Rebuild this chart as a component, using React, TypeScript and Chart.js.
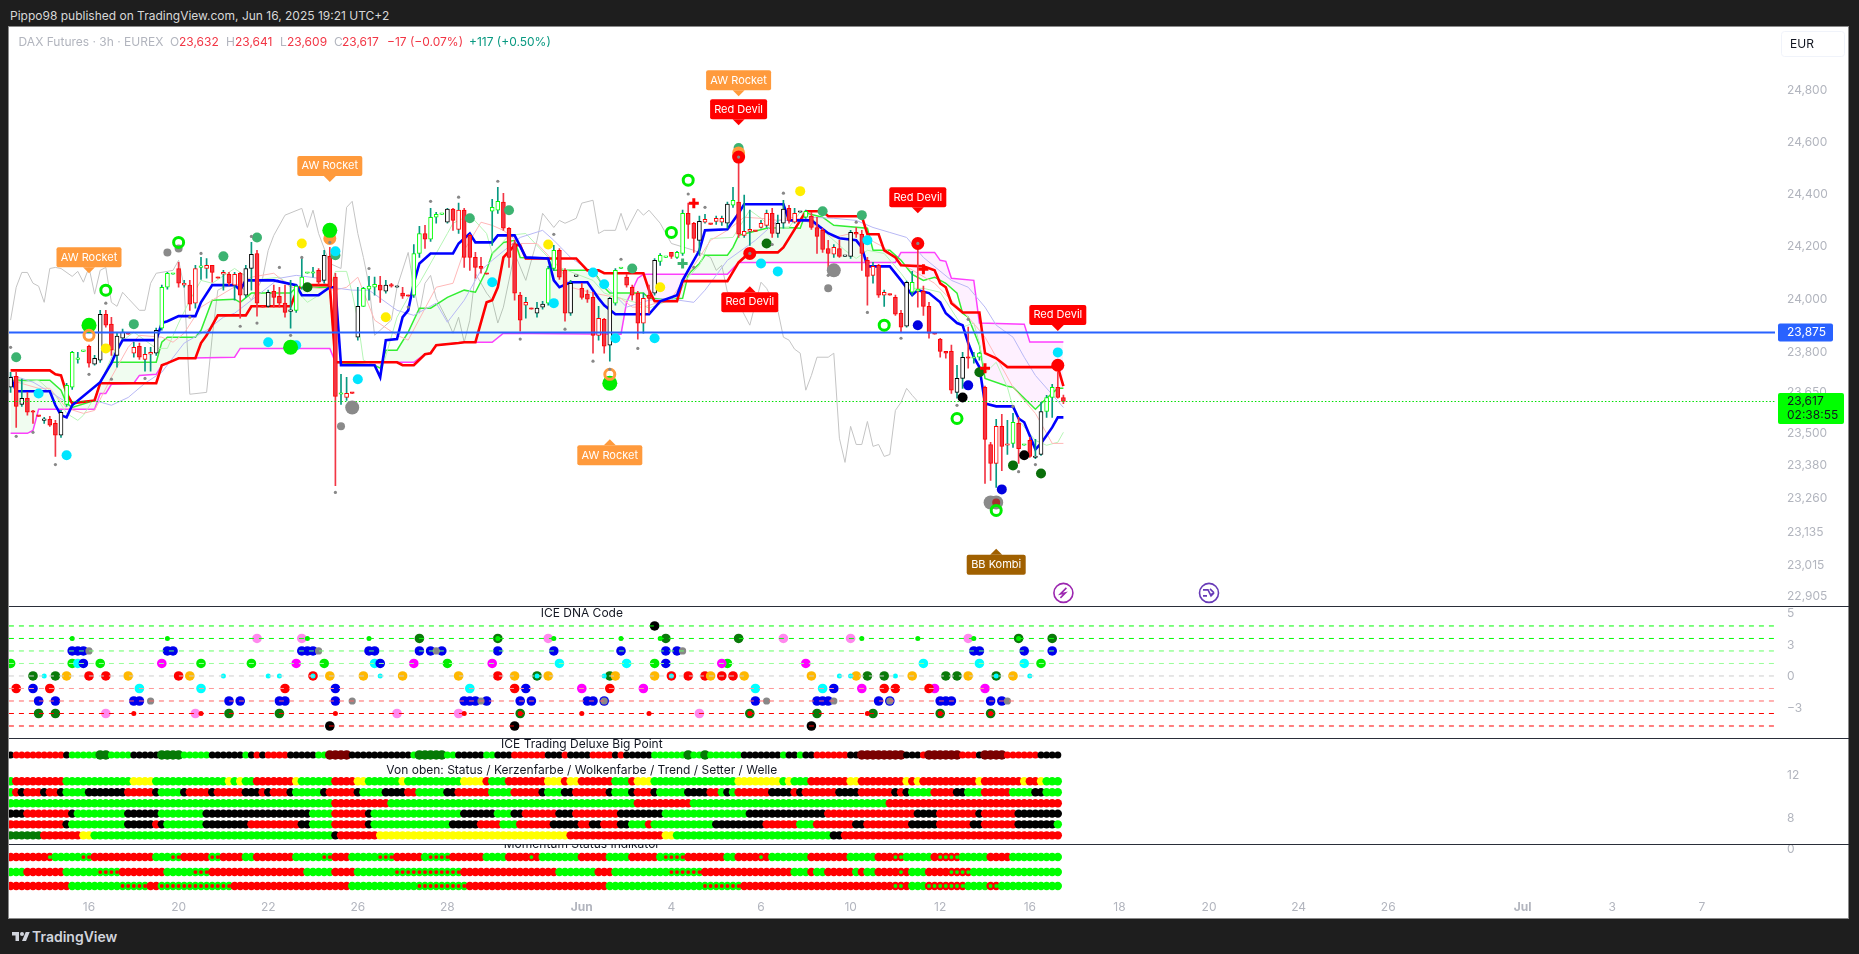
import React, { useEffect, useRef } from "react";
import { Chart, registerables } from "chart.js";

Chart.register(...registerables);

const FONT = "Inter, 'Noto Sans', sans-serif";
const firstBar = 2;
const lastRowBar = 189;

// ---------- candles (bars 2..190) ----------
const bodyTop = [
  23707,23711,23629,23629,23580,23566,23551,23551,23536,23577,
  23677,23800,23778,23808,23823,23778,23943,23943,23906,23861,
  23876,23872,23819,23823,23793,23800,23883,24045,24098,24098,
  24116,24060,24053,24116,24124,24128,24128,24083,24101,24094,
  24094,24098,24116,24170,24173,23973,24026,24030,24011,23985,
  23958,24049,24083,24101,24101,24109,24166,24162,24083,23647,
  23647,23651,23973,24041,24049,24056,24053,24053,24053,24049,
  24023,24015,24173,24249,24249,24311,24322,24326,24342,24342,
  24338,24338,24242,24158,24124,24098,24349,24372,24369,24269,
  24211,24015,23988,23966,23966,23981,24116,24185,24185,24109,
  24060,24090,24041,24019,24007,23928,23924,24003,24109,24120,
  24083,24045,24023,24003,24015,24147,24166,24162,24177,24177,
  24326,24326,24288,24295,24303,24288,24307,24307,24361,24376,
  24369,24257,24265,24261,24288,24326,24326,24288,24342,24345,
  24326,24334,24334,24315,24272,24261,24192,24196,24192,24166,
  24253,24253,24246,24147,24124,24128,24026,24019,24007,23947,
  24064,24064,24038,24030,23973,23872,23850,23804,23804,23703,
  23782,23782,23782,23797,23670,23458,23525,23525,23458,23540,
  23536,23458,23473,23414,23580,23632,23670,23670,23632,
];
const bodyBottom = [
  23670,23599,23606,23577,23577,23562,23547,23529,23492,23492,
  23606,23670,23774,23804,23760,23756,23771,23902,23808,23789,
  23853,23868,23797,23782,23774,23793,23797,23891,24045,24094,
  24060,24053,23981,23985,24120,24116,24101,24079,24094,24060,
  24053,24015,24015,24116,23985,23970,23973,24007,23985,23950,
  23954,23958,24045,24098,24098,24064,24071,24045,23636,23644,
  23632,23647,23857,23973,24038,24045,24034,24030,24049,24045,
  24011,24011,24015,24173,24227,24227,24311,24322,24292,24299,
  24265,24158,24158,24120,24116,24094,24334,24338,24269,24158,
  24023,23921,23977,23962,23947,23970,23985,24116,24083,23947,
  23947,24086,24007,24000,23864,23864,23823,23827,23985,24116,
  24053,24015,23910,23910,24003,24023,24143,24158,24162,24158,
  24173,24284,24230,24223,24292,24284,24295,24292,24288,24357,
  24246,24242,24257,24257,24272,24280,24249,24249,24288,24299,
  24292,24330,24311,24272,24238,24188,24173,24170,24162,24162,
  24162,24246,24173,24086,24090,24015,24015,24015,23943,23895,
  23898,24026,24030,23973,23872,23868,23804,23797,23659,23651,
  23703,23778,23778,23782,23477,23388,23388,23451,23455,23462,
  23443,23455,23414,23410,23421,23580,23632,23632,23617,
];
const highs = [
  23726,23726,23700,23651,23584,23566,23558,23562,23547,23584,
  23685,23804,23800,23808,23827,23789,23958,23958,23932,23872,
  23887,23872,23838,23835,23819,23819,23891,24053,24101,24098,
  24139,24071,24071,24128,24158,24154,24128,24083,24109,24101,
  24101,24101,24128,24215,24185,23973,24034,24053,24045,24053,
  24071,24053,24158,24101,24120,24116,24185,24196,24098,23718,
  23707,23651,24045,24045,24086,24083,24086,24071,24060,24049,
  24045,24015,24207,24276,24280,24345,24330,24326,24345,24345,
  24365,24345,24246,24177,24158,24098,24380,24426,24403,24272,
  24223,24026,24007,23966,23988,23992,24124,24204,24192,24116,
  24071,24090,24060,24034,24026,23973,23928,24007,24116,24120,
  24094,24053,24030,24023,24053,24154,24173,24162,24177,24181,
  24338,24365,24292,24315,24322,24288,24315,24315,24369,24426,
  24542,24396,24338,24261,24299,24338,24345,24319,24376,24357,
  24345,24334,24338,24330,24311,24269,24223,24207,24223,24166,
  24261,24272,24261,24158,24139,24132,24034,24019,24015,23958,
  24068,24105,24211,24049,23988,23872,23853,23804,23827,23752,
  23800,23895,23800,23800,23674,23466,23551,23569,23547,23573,
  23558,23458,23484,23477,23614,23640,23681,23726,23641,
];
const lows = [
  23651,23521,23599,23566,23536,23562,23536,23525,23414,23484,
  23599,23662,23760,23804,23745,23752,23763,23895,23789,23745,
  23850,23868,23782,23774,23730,23730,23789,23883,24038,24094,
  24045,24045,23958,23966,24075,24079,24064,24079,24034,24053,
  23996,23928,24007,24034,23936,23970,23970,23970,23970,23932,
  23891,23950,24038,24098,24083,24056,24060,24034,23307,23606,
  23621,23647,23846,23973,23996,24015,23988,24023,24045,24045,
  24003,24011,24007,24158,24192,24219,24288,24322,24288,24261,
  24249,24120,24109,24079,24098,24094,24204,24326,24261,24120,
  23996,23880,23928,23962,23932,23962,23977,24109,24075,23917,
  23939,24086,24000,23988,23797,23846,23797,23767,23977,24116,
  24045,23996,23850,23872,23947,24015,24128,24158,24154,24154,
  24166,24230,24177,24166,24288,24284,24284,24280,24269,24349,
  24234,24234,24204,24257,24269,24272,24234,24234,24269,24288,
  24288,24330,24307,24265,24173,24177,24109,24158,24158,24162,
  24154,24234,24109,23977,24060,24007,23973,24015,23939,23876,
  23895,24015,23970,23939,23853,23868,23782,23778,23647,23629,
  23666,23741,23760,23771,23315,23326,23300,23362,23421,23447,
  23388,23455,23410,23406,23418,23558,23558,23629,23609,
];
const candleKinds = (
  "krkrrrkrrk" + "ggggrkkrrk" + "krorookggg" + "rorogorror" + "orkkrrkrrr" +
  "kggggrkrrg" + "orkgggrkrk" + "rrggrgggkr" + "orrrrrggrr" + "rrorkkggrr" +
  "kkrrrorkgg" + "rrrorkggrg" + "grrkorookg" + "rooroorkkr" + "okgrrrrork" +
  "krrrororrr" + "kgGrrrrrrk" + "krggrrorog" + "rgrkkggrr"
).split("");

// ---------- indicator lines: [bar, price] ----------
const blueLine = [[2,23707],[3,23655],[9,23655],[10,23603],[11,23566],[12,23558],[13,23603],[18,23689],[20,23760],[21,23808],[22,23846],[28,23846],[29,23910],[30,23917],[32,23936],[35,23936],[36,23988],[38,24053],[42,24053],[43,24034],[44,24071],[49,24071],[53,24053],[54,24015],[57,24015],[59,24045],[60,24045],[61,23752],[67,23752],[68,23707],[69,23846],[71,23850],[72,23932],[73,23958],[74,24060],[75,24135],[77,24173],[81,24173],[82,24211],[84,24249],[85,24215],[88,24215],[89,24242],[92,24242],[94,24158],[98,24154],[99,24071],[100,24045],[102,24064],[105,24064],[107,24003],[108,23977],[110,23943],[116,23943],[118,23992],[121,24015],[122,24071],[125,24185],[126,24261],[130,24265],[132,24326],[133,24361],[140,24361],[141,24299],[145,24299],[148,24250],[150,24231],[153,24223],[154,24196],[155,24124],[159,24124],[161,24071],[163,24015],[164,24034],[166,24023],[168,23988],[169,23947],[171,23910],[172,23902],[173,23835],[174,23782],[175,23745],[176,23610],[178,23599],[181,23599],[182,23554],[183,23540],[185,23440],[186,23462],[188,23521],[189,23558],[190,23558]];
const redLine = [[2,23733],[9,23733],[10,23718],[11,23714],[12,23647],[13,23610],[17,23621],[18,23685],[28,23685],[29,23752],[30,23760],[32,23778],[35,23778],[36,23835],[37,23864],[39,23939],[44,23939],[45,23973],[52,23973],[53,24026],[54,24053],[59,24053],[60,23763],[71,23763],[72,23752],[74,23752],[76,23793],[77,23797],[78,23827],[82,23835],[83,23838],[85,23838],[87,23988],[88,23996],[89,24045],[90,24158],[92,24204],[93,24204],[94,24154],[103,24154],[105,24109],[107,24109],[108,24098],[115,24098],[116,24034],[117,23992],[121,23992],[122,24068],[130,24068],[132,24139],[134,24177],[139,24177],[140,24196],[143,24299],[144,24334],[147,24334],[148,24315],[154,24315],[155,24246],[157,24246],[158,24185],[160,24158],[161,24128],[165,24124],[167,24109],[168,24060],[169,24045],[170,23985],[172,23950],[175,23950],[176,23797],[178,23778],[180,23745],[189,23745],[190,23674]];
const magentaLine = [[2,23499],[5,23499],[6,23510],[7,23588],[17,23588],[18,23647],[19,23647],[20,23681],[24,23685],[25,23714],[28,23718],[29,23752],[32,23778],[42,23782],[43,23815],[59,23815],[60,23763],[74,23763],[76,23793],[77,23797],[78,23827],[82,23835],[83,23838],[88,23838],[90,23872],[111,23868],[112,23988],[114,24079],[115,24094],[130,24094],[132,24139],[160,24139],[161,24177],[167,24177],[168,24147],[169,24143],[170,24079],[174,24071],[175,23910],[183,23906],[184,23839],[190,23839]];
const greenLine = [[2,23696],[9,23696],[11,23659],[12,23610],[13,23595],[17,23621],[18,23689],[20,23763],[28,23763],[29,23838],[30,23857],[35,23857],[36,23883],[38,23996],[42,24000],[43,23988],[45,24023],[52,24023],[53,24045],[59,24045],[60,23763],[67,23752],[68,23741],[69,23808],[71,23808],[73,23876],[75,23966],[77,23966],[80,24007],[83,24034],[85,24026],[87,24109],[88,24173],[90,24215],[92,24223],[93,24158],[98,24154],[99,24109],[106,24109],[108,24045],[109,24023],[115,24023],[116,24003],[119,24000],[122,24003],[123,24094],[125,24135],[126,24166],[130,24166],[131,24196],[132,24242],[134,24253],[137,24269],[141,24272],[143,24269],[144,24327],[147,24311],[149,24280],[155,24269],[156,24185],[159,24185],[161,24147],[163,24094],[165,24071],[167,24083],[169,24060],[171,24023],[172,23947],[173,23932],[175,23827],[176,23703],[180,23674],[181,23670],[185,23588],[187,23629],[189,23666],[190,23666]];
const paleGreen = [[2,23703],[4,23689],[7,23696],[10,23640],[12,23573],[14,23547],[15,23566],[17,23632],[19,23733],[21,23827],[24,23876],[28,23815],[30,23815],[32,23910],[34,23996],[36,24071],[38,24060],[42,24116],[45,24071],[50,24083],[53,24034],[55,23988],[59,24041],[60,24105],[62,24105],[63,24023],[64,23921],[65,23771],[67,23752],[68,23714],[71,23932],[73,24007],[75,24060],[80,24249],[81,24288],[84,24319],[87,24249],[88,24173],[91,24242],[94,24249],[98,24158],[100,24120],[106,24071],[108,24023],[111,24003],[114,23985],[116,23966],[121,24007],[123,24083],[125,24128],[127,24230],[131,24234],[134,24338],[136,24307],[138,24269],[141,24272],[143,24330],[145,24311],[147,24261],[151,24185],[153,24154],[155,24185],[158,24173],[161,24098],[163,24041],[165,24041],[168,24026],[172,23895],[174,23910],[175,23835],[176,23722],[178,23763],[180,23670],[181,23595],[182,23547],[185,23473],[187,23455],[189,23466],[190,23503]];
const paleRed = [[2,23696],[7,23666],[9,23666],[12,23592],[15,23573],[17,23584],[20,23707],[23,23819],[25,23864],[29,23857],[31,23838],[33,23872],[36,23970],[38,23996],[41,24034],[45,24083],[49,24098],[52,24045],[55,24045],[60,24034],[62,24045],[64,24083],[67,23921],[71,23864],[73,23846],[78,24045],[81,24060],[83,24185],[86,24292],[88,24280],[90,24261],[93,24211],[96,24211],[100,24120],[102,24045],[106,24023],[111,24003],[113,23970],[115,23970],[120,24003],[125,24158],[127,24223],[130,24261],[133,24311],[136,24307],[139,24299],[142,24311],[145,24288],[149,24234],[153,24253],[155,24230],[158,24196],[161,24135],[164,24098],[167,24060],[173,23932],[175,23883],[176,23857],[179,23745],[181,23670],[185,23573],[188,23462],[190,23462]];
const paleBlue = [[2,23711],[4,23703],[6,23689],[10,23640],[12,23614],[17,23621],[20,23603],[23,23632],[26,23685],[29,23726],[33,23835],[37,23883],[40,23932],[42,23947],[45,23996],[50,24079],[53,24090],[57,24079],[59,24045],[63,24034],[66,24034],[71,23958],[74,23939],[78,23985],[80,23913],[83,23996],[86,24109],[88,24147],[93,24234],[97,24261],[99,24223],[102,24158],[106,24098],[109,24034],[112,23970],[116,23996],[119,24003],[124,23988],[126,24034],[130,24147],[135,24223],[139,24299],[142,24299],[145,24311],[149,24307],[153,24299],[156,24272],[159,24253],[162,24234],[165,24158],[170,24071],[173,24045],[176,23970],[178,23902],[181,23857],[183,23782],[185,23714],[190,23595]];
const grayLine = [[2,23921],[3,24045],[4,24101],[5,24101],[6,24060],[7,24049],[8,23988],[9,24116],[10,24120],[11,24116],[13,24086],[14,24105],[15,24064],[16,24120],[17,24019],[18,24109],[19,24120],[20,23988],[21,23973],[22,24026],[23,24003],[25,23958],[26,23958],[27,24060],[28,24098],[30,24105],[31,24109],[32,24147],[33,24045],[34,23644],[37,23651],[38,23857],[39,24034],[40,24045],[43,24056],[45,23996],[47,24079],[48,24185],[49,24242],[51,24319],[54,24345],[55,24272],[56,24338],[57,24249],[59,24135],[61,24116],[62,24349],[63,24372],[64,24249],[65,24158],[66,24053],[67,23864],[70,23921],[71,24045],[73,24177],[74,24045],[75,23947],[76,24060],[77,24090],[78,24003],[80,23921],[81,23872],[82,23932],[83,23838],[84,23921],[85,24098],[87,24023],[88,23996],[89,23910],[90,23970],[92,24173],[94,24071],[96,24223],[97,24326],[99,24272],[100,24299],[101,24288],[103,24307],[104,24365],[106,24376],[107,24249],[108,24261],[110,24261],[111,24326],[112,24261],[114,24342],[115,24319],[116,24338],[118,24288],[120,24211],[124,24185],[127,24158],[128,24109],[129,24128],[130,24026],[131,24023],[134,23902],[136,24064],[137,24041],[139,23958],[140,23857],[141,23846],[142,23812],[143,23797],[144,23659],[145,23714],[146,23782],[148,23782],[149,23797],[150,23481],[151,23392],[152,23525],[153,23458],[154,23458],[155,23543],[156,23451],[157,23458],[158,23414],[159,23421],[160,23584],[161,23614],[162,23666],[163,23640],[164,23617]];

// ---------- horizontal levels ----------
const blueLevel = 23875;
const lastPrice = 23617;

// ---------- signal dots on the price pane: [bar, price] ----------
const dotCyan = [[7,23647],[12,23418],[48,23838],[53,23827],[60,24181],[64,23700],[88,24064],[99,23985],[106,24101],[108,24056],[110,23853],[117,23853],[136,24135],[139,24105],[155,24223],[189,23800]];
const dotSeaGreen = [[3,23782],[24,23906],[40,24162],[46,24234],[60,24166],[84,24307],[91,24338],[113,24116],[132,24577],[147,24334],[154,24319]];
const dotYellow = [[19,23815],[54,24211],[69,23932],[98,24207],[118,24045],[143,24411]];
const dotLime = [[16,23902],[52,23819],[59,24261],[109,23685]];
const dotDarkGreen = [[55,24045],[137,24211],[175,23726],[181,23381],[186,23351]];
const dotOrange = [[59,24230],[132,24558]];
const dotRed = [[132,24542],[134,24173],[164,24211],[189,23752]];
const dotBlue = [[164,23902],[173,23677],[179,23293]];
const dotBlack = [[172,23632],[183,23418]];
const dotGrayBig = [[63,23595],[149,24109],[178,23245],[177,23245]];
const dotGrayMid = [[30,24177],[32,24192],[61,23525],[148,24041]];
const dotBrown = [[178,23245]];
const ringLime = [[19,24034],[32,24215],[120,24253],[123,24453],[158,23902],[171,23554],[178,23216]];
const ringOrange = [[16,23864],[109,23718]];
const crossRed = [[124,24365],[165,24113],[176,23741]];
const crossGreen = [[122,24135]];
const dotGraySmall = [[19,23985],[36,24173],[45,24238],[50,24120],[54,24158],[59,24215],[66,24116],[77,24372],[82,24388],[89,24449],[99,24246],[73,23970],[10,23384],[3,23488],[6,23503],[2,23819],[16,23718],[20,23700],[26,23703],[34,23932],[43,23898],[46,23910],[52,23864],[60,23282],[101,23887],[93,23850],[106,23767],[109,23737],[111,24151],[114,23815],[123,24400],[126,24349],[124,24120],[140,24403],[138,24207],[153,24292],[155,23950],[161,23853],[148,24090],[173,23924],[171,23603],[182,23358],[185,23384],[181,23599],[132,24542],[134,24173],[164,24211]];

// ---------- labels on the price pane ----------
const badges = [
  { text: "AW Rocket", bar: 16, price: 24098, dir: "down", color: "#ff9a3c" },
  { text: "AW Rocket", bar: 59, price: 24446, dir: "down", color: "#ff9a3c" },
  { text: "AW Rocket", bar: 132, price: 24778, dir: "down", color: "#ff9a3c" },
  { text: "Red Devil", bar: 132, price: 24665, dir: "down", color: "#ff0000" },
  { text: "Red Devil", bar: 164, price: 24326, dir: "down", color: "#ff0000" },
  { text: "Red Devil", bar: 134, price: 24049, dir: "up", color: "#ff0000" },
  { text: "Red Devil", bar: 189, price: 23880, dir: "down", color: "#ff0000" },
  { text: "AW Rocket", bar: 109, price: 23477, dir: "up", color: "#ff9a3c" },
  { text: "BB Kombi", bar: 178, price: 23077, dir: "up", color: "#a06000" },
];
const eventMarks = [
  { bar: 190, price: 22917, kind: "bolt", color: "#9c27b0" },
  { bar: 216, price: 22917, kind: "arrows", color: "#673ab7" },
];

// ---------- axes ----------
const priceTicks = [24800, 24600, 24400, 24200, 24000, 23800, 23650, 23500, 23380, 23260, 23135, 23015, 22905];
const xTickBars = [16, 32, 48, 64, 80, 104, 120, 136, 152, 168, 184, 200, 216, 232, 248, 272, 288, 304];
const xTickLabels = ["16", "20", "22", "26", "28", "Jun", "4", "6", "10", "12", "16", "18", "20", "24", "26", "Jul", "3", "7"];
const dnaTickPos = [5, 2.48, 0, -2.56];
const dnaTickLabels = ["5", "3", "0", "\u22123"];
const statusTickPos = [12, 8];
const statusTickLabels = ["12", "8"];

// ---------- ICE DNA Code: [bar, level] ----------
const dnaLevels = [4, 3, 2, 1, 0, -1, -2, -3, -4];
const dnaLevelColors = ["#00ff00", "#00ff00", "#66ff66", "#99ff99", "#cccccc", "#ff9999", "#ff6666", "#ff0000", "#ff0000"];
const dnaBlue = [[13,2],[14,2],[15,2],[30,2],[31,2],[54,2],[55,2],[56,2],[66,2],[67,2],[75,2],[77,2],[79,2],[89,2],[99,2],[111,2],[119,2],[121,2],[174,2],[175,2],[183,2],[188,2],[15,1],[68,1],[119,1],[6,-1],[60,-1],[94,-1],[149,-1],[7,-2],[10,-2],[24,-2],[25,-2],[41,-2],[43,-2],[50,-2],[51,-2],[60,-2],[83,-2],[84,-2],[85,-2],[87,-2],[93,-2],[95,-2],[105,-2],[106,-2],[108,-2],[135,-2],[146,-2],[147,-2],[148,-2],[157,-2],[159,-2],[168,-2],[169,-2],[170,-2],[177,-2],[179,-2]];
const dnaGray = [[16,2],[57,2],[78,2],[122,2],[27,-2],[63,-2],[86,-2],[108,-2],[137,-2],[149,-2],[159,-2],[180,-2]];
const dnaLime = [[2,1],[13,1],[18,1],[36,1],[45,1],[58,1],[80,1],[117,1],[130,1],[186,1]];
const dnaMagenta = [[29,1],[53,1],[74,1],[88,1],[129,1],[144,1],[104,-1],[115,-1],[154,-1],[167,-1],[176,-1]];
const dnaCyan = [[14,1],[67,1],[100,1],[112,1],[165,1],[175,1],[183,1],[25,-1],[36,-1],[84,-1],[135,-1],[147,-1]];
const dnaPink = [[46,3],[54,3],[98,3],[140,3],[152,3],[173,3],[19,-3],[35,-3],[71,-3],[82,-3],[125,-3]];
const dnaDarkGreen = [[75,3],[89,3],[119,3],[132,3],[182,3],[188,3],[6,0],[10,0],[96,0],[109,0],[155,0],[158,0],[169,0],[171,0],[178,0],[7,-3],[10,-3],[41,-3],[50,-3],[93,-3],[134,-3],[146,-3],[156,-3],[168,-3],[177,-3]];
const dnaRed = [[16,0],[19,0],[32,0],[56,0],[89,0],[120,0],[123,0],[126,0],[129,0],[131,0],[3,-1],[9,-1],[51,-1],[92,-1],[109,-1],[158,-1],[160,-1],[166,-1]];
const dnaAmber = [[12,0],[23,0],[34,0],[59,0],[65,0],[72,0],[82,0],[92,0],[98,0],[110,0],[117,0],[127,0],[133,0],[145,0],[153,0],[163,0],[173,0],[181,0]];
const dnaBlack = [[117,4],[59,-4],[92,-4],[145,-4]];
const dnaSmallLime = [[13,3],[30,3],[55,3],[66,3],[89,3],[99,3],[111,3],[118,3],[154,3],[164,3],[174,3],[182,3]];
const dnaSmallCyan = [[8,0],[40,0],[48,0],[50,0],[56,0],[68,0],[96,0],[108,0],[120,0],[150,0],[152,0],[160,0],[178,0],[184,0]];
const dnaSmallRed = [[24,-3],[36,-3],[60,-3],[83,-3],[93,-3],[104,-3],[116,-3],[134,-3],[155,-3],[168,-3],[177,-3]];

// ---------- row strips: runs of [colour letter, last bar of the run] ----------
const bigPointRuns = [["k",2],["r",11],["k",12],["l",17],["D",19],["l",23],["k",28],["D",32],["l",37],["k",43],["l",44],["k",45],["r",46],["k",47],["r",51],["k",56],["l",58],["M",62],["k",73],["l",74],["D",79],["l",81],["k",86],["l",88],["k",91],["r",97],["k",100],["r",101],["k",105],["r",109],["k",110],["r",111],["k",116],["l",122],["D",123],["l",125],["D",126],["l",132],["k",139],["l",140],["k",142],["l",143],["k",145],["r",151],["k",153],["M",161],["k",164],["r",165],["M",171],["r",174],["k",175],["M",179],["r",185],["k",189]];
const statusRuns = [["l",2],["r",11],["l",23],["y",27],["l",40],["y",41],["l",42],["y",43],["l",45],["r",52],["y",53],["l",59],["r",63],["y",65],["l",71],["y",72],["l",82],["y",86],["r",87],["l",90],["r",97],["y",100],["r",101],["y",103],["r",109],["l",112],["r",113],["y",116],["l",131],["y",139],["l",140],["y",141],["l",144],["r",151],["y",153],["r",161],["y",162],["r",163],["y",164],["r",174],["y",175],["r",182],["y",183],["r",185],["y",186],["l",189]];
const candleRuns = [["l",2],["r",3],["k",4],["r",7],["k",8],["r",10],["k",11],["l",15],["k",22],["r",27],["k",28],["l",32],["k",33],["r",37],["k",38],["r",43],["k",46],["r",47],["k",48],["r",51],["k",52],["l",57],["k",58],["r",63],["k",64],["l",68],["k",72],["r",74],["l",79],["k",81],["r",87],["l",91],["r",96],["k",97],["l",100],["k",102],["r",108],["k",109],["l",112],["k",113],["r",116],["k",117],["l",122],["k",126],["r",128],["l",129],["k",130],["l",131],["r",137],["k",141],["r",142],["k",143],["r",149],["k",153],["r",159],["k",160],["r",161],["k",162],["l",166],["r",170],["k",172],["l",175],["r",180],["l",184],["k",186],["l",189]];
const cloudRuns = [["l",59],["r",69],["l",113],["r",123],["l",158],["r",189]];
const trendRuns = [["k",4],["r",12],["k",13],["l",22],["k",28],["l",36],["k",55],["l",59],["r",65],["k",66],["l",82],["k",88],["l",91],["k",93],["r",99],["k",102],["r",110],["k",118],["l",133],["k",147],["r",163],["k",167],["r",174],["k",175],["r",181],["k",189]];
const setterRuns = [["r",11],["k",12],["l",22],["k",27],["r",28],["k",29],["l",36],["k",44],["r",53],["k",55],["l",59],["r",65],["k",66],["l",80],["k",85],["r",89],["l",92],["r",98],["k",103],["r",105],["k",107],["r",110],["k",112],["l",115],["r",116],["l",127],["k",136],["r",142],["l",145],["r",152],["k",154],["r",162],["k",167],["r",173],["k",175],["r",181],["k",188],["l",189]];
const waveRuns = [["D",7],["r",14],["y",16],["l",59],["k",60],["r",67],["y",101],["r",118],["y",120],["l",148],["k",150],["r",189]];
const momentumARuns = [["r",9],["l",16],["r",27],["l",32],["r",37],["l",39],["r",43],["l",45],["r",52],["l",59],["r",62],["l",70],["r",75],["l",80],["r",86],["l",90],["r",96],["l",103],["r",108],["l",112],["r",117],["l",122],["r",129],["l",131],["r",137],["l",144],["r",151],["l",156],["r",161],["l",166],["r",171],["l",176],["r",180],["l",189]];
const momentumBRuns = [["l",4],["r",11],["l",21],["r",29],["l",37],["r",54],["l",59],["r",63],["l",82],["r",99],["l",106],["r",109],["l",125],["r",141],["l",144],["r",145],["l",147],["r",152],["l",153],["r",154],["l",156],["r",162],["l",165],["r",173],["l",189]];
const momentumCRuns = [["r",12],["l",26],["r",28],["l",41],["r",62],["l",83],["r",108],["l",132],["r",162],["l",165],["r",172],["l",176],["r",178],["l",189]];
const momentumASmall = [9,15,16,31,32,38,39,58,59,68,69,70,77,78,79,80,95,119,120,121,122,136,160,161,168,169,170,171];
const momentumBSmall = [18,19,20,21,35,36,37,71,72,73,74,75,76,77,78,79,80,81,82,120,121,122,123,124,125,161,170,171,172,173];
const momentumCSmall = [22,23,24,25,26,29,30,31,32,33,34,35,36,37,38,39,40,41,75,76,77,78,79,80,81,82,83,126,127,128,129,130,131,132,160,161,166,167,168,169,170,171,172,177,178];
const statusLevels = [11.47, 10.43, 9.39, 8.41, 7.4, 6.36];
const bigPointLevel = 13.96;
const momentumLevels = [-1.07, -3.07, -4.93];

// ---------- texts ----------
const paneTitles = [
  { text: "ICE DNA Code", bar: 104, axis: "yDna", level: 5 },
  { text: "ICE Trading Deluxe Big Point", bar: 104, axis: "yStatus", level: 15 },
  { text: "Von oben: Status / Kerzenfarbe / Wolkenfarbe / Trend / Setter / Welle", bar: 104, axis: "yStatus", level: 12.54 },
  { text: "Momentum Status Indikator", bar: 104, axis: "yMomentum", level: 0.6 },
];
const legendParts = [
  { text: "DAX Futures \u00b7 3h \u00b7 EUREX", x: 18.6, c: "#b2b5be" },
  { text: "O", x: 170, c: "#b2b5be" }, { text: "23,632", x: 179, c: "#f23645" },
  { text: "H", x: 226, c: "#b2b5be" }, { text: "23,641", x: 235, c: "#f23645" },
  { text: "L", x: 280, c: "#b2b5be" }, { text: "23,609", x: 287, c: "#f23645" },
  { text: "C", x: 334, c: "#b2b5be" }, { text: "23,617", x: 342, c: "#f23645" },
  { text: "\u221217 (\u22120.07%)", x: 387, c: "#f23645" },
  { text: "+117 (+0.50%)", x: 469, c: "#089981" },
];

const LETTER: Record<string, string> = { r: "#ff0000", l: "#00ff00", k: "#000000", y: "#ffff00", D: "#067a06", M: "#7a0000" };
const bars: number[] = bodyTop.map((_, k) => firstBar + k);
const rowBars = bars.filter((b) => b <= lastRowBar);

function expandRuns(runs: any[]): string[] {
  const out: string[] = [];
  let i = firstBar;
  for (const [c, end] of runs) while (i <= end) { out.push(c); i++; }
  return out;
}
const pts = (arr: number[][]) => arr.map(([x, y]) => ({ x, y }));

function line(arr: number[][], color: string, width: number, extra: any = {}) {
  return { type: "line", yAxisID: "yMain", data: pts(arr), borderColor: color, borderWidth: width, pointRadius: 0, tension: 0, fill: false, ...extra };
}
function dots(arr: number[][], color: string, r: number, axis = "yMain", extra: any = {}) {
  return { type: "scatter", yAxisID: axis, data: pts(arr), pointRadius: r, pointHoverRadius: r, pointBackgroundColor: color, pointBorderColor: color, pointBorderWidth: 0, ...extra };
}
function rowDots(runs: any[], level: number, r: number, axis: string, big: string[] = []) {
  const letters = expandRuns(runs);
  return {
    type: "scatter", yAxisID: axis,
    data: rowBars.map((x) => ({ x, y: level })),
    pointRadius: letters.map((c) => (big.includes(c) ? r + 1.3 : r)),
    pointBackgroundColor: letters.map((c) => LETTER[c]),
    pointBorderWidth: 0,
  };
}
function smallDots(runs: any[], list: number[], level: number, axis: string) {
  const letters = expandRuns(runs);
  return {
    type: "scatter", yAxisID: axis,
    data: list.map((x) => ({ x, y: level })),
    pointRadius: 1.9,
    pointBackgroundColor: list.map((x) => (letters[x - firstBar] === "r" ? "#00ff00" : "#ff0000")),
    pointBorderWidth: 0,
  };
}

function rRect(ctx: any, x: number, y: number, w: number, h: number, r: number) {
  ctx.beginPath();
  ctx.roundRect(x, y, w, h, r);
  ctx.fill();
}

const overlayPlugin = {
  id: "overlay",
  afterDraw(chart: any) {
    const { ctx, scales, width } = chart;
    const xs = scales.x, ym = scales.yMain;
    ctx.save();
    // pane separators
    ctx.strokeStyle = "#2a2e39";
    ctx.lineWidth = 1;
    for (const id of ["yMain", "yDna", "yStatus"]) {
      const y = Math.round(scales[id].bottom) + 0.5;
      ctx.beginPath(); ctx.moveTo(0, y); ctx.lineTo(width, y); ctx.stroke();
    }
    // pane titles
    ctx.font = `12px ${FONT}`;
    ctx.fillStyle = "#131722";
    ctx.textAlign = "center";
    ctx.textBaseline = "middle";
    for (const t of paneTitles) {
      ctx.save();
      const s = scales[t.axis];
      ctx.beginPath();
      ctx.rect(0, s.top, width, s.bottom - s.top);
      ctx.clip();
      ctx.fillText(t.text, xs.getPixelForValue(t.bar), s.getPixelForValue(t.level));
      ctx.restore();
    }
    // badges
    ctx.font = `11px ${FONT}`;
    for (const b of badges) {
      const x = xs.getPixelForValue(b.bar), y = ym.getPixelForValue(b.price);
      const w = b.text === "AW Rocket" ? 65 : b.text === "Red Devil" ? 57 : 59;
      const h = 20, tip = 6, sign = b.dir === "down" ? -1 : 1;
      ctx.fillStyle = b.color;
      const boxTop = sign < 0 ? y - tip - h : y + tip;
      rRect(ctx, x - w / 2, boxTop, w, h, 2);
      ctx.beginPath();
      ctx.moveTo(x, y);
      ctx.lineTo(x - tip, y + sign * tip);
      ctx.lineTo(x + tip, y + sign * tip);
      ctx.fill();
      ctx.fillStyle = "#ffffff";
      ctx.fillText(b.text, x, boxTop + h / 2);
    }
    // event marks under the price pane
    for (const m of eventMarks) {
      const x = xs.getPixelForValue(m.bar), y = ym.getPixelForValue(m.price);
      ctx.strokeStyle = m.color;
      ctx.lineWidth = 1.6;
      ctx.beginPath(); ctx.arc(x, y, 9.5, 0, Math.PI * 2); ctx.stroke();
      ctx.beginPath();
      if (m.kind === "bolt") {
        ctx.moveTo(x + 3, y - 5); ctx.lineTo(x - 3, y + 1); ctx.lineTo(x + 2, y); ctx.lineTo(x - 3, y + 5);
      } else {
        ctx.moveTo(x - 6, y - 3); ctx.lineTo(x - 1, y - 3); ctx.lineTo(x + 2, y + 3); ctx.lineTo(x + 5, y);
        ctx.moveTo(x + 5, y); ctx.lineTo(x + 1, y - 4); ctx.moveTo(x + 5, y); ctx.lineTo(x + 1, y + 2);
        ctx.moveTo(x - 6, y + 3); ctx.lineTo(x - 2, y + 3);
      }
      ctx.stroke();
    }
    // legend
    ctx.font = `12px ${FONT}`;
    ctx.textAlign = "left";
    for (const p of legendParts) {
      ctx.fillStyle = p.c;
      ctx.fillText(p.text, p.x - 9, 15.5);
    }
    // price tags on the axis
    const yb = ym.getPixelForValue(blueLevel);
    ctx.fillStyle = "#2962ff";
    rRect(ctx, 1769, yb - 9, 55, 18, 2);
    ctx.fillStyle = "#ffffff";
    ctx.fillText(blueLevel.toLocaleString("en-US"), 1778, yb);
    const yl = ym.getPixelForValue(lastPrice);
    ctx.fillStyle = "#00ff00";
    rRect(ctx, 1769, yl - 8.5, 66, 31, 2);
    ctx.fillStyle = "#131722";
    ctx.fillText(lastPrice.toLocaleString("en-US"), 1778, yl);
    ctx.fillText("02:38:55", 1778, yl + 14);
    // currency button
    ctx.fillStyle = "#ffffff";
    ctx.strokeStyle = "#f0f3fa";
    ctx.lineWidth = 1;
    ctx.beginPath(); ctx.roundRect(1772.5, 4.5, 63, 25, 3); ctx.fill(); ctx.stroke();
    ctx.fillStyle = "#131722";
    ctx.fillText("EUR", 1781, 17.5);
    ctx.restore();
  },
};

function buildDatasets() {
  const list: any[] = [];
  const magentaIndex = 1;
  list.push(line(grayLine, "#c4c4c4", 1));
  list.push(line(magentaLine, "#ff40ff", 1.5));
  list.push(line(greenLine, "#33ee33", 1.5, {
    fill: { target: magentaIndex, above: "rgba(0,210,0,0.06)", below: "rgba(230,0,255,0.06)" },
  }));
  list.push(line(paleGreen, "#b5f5b5", 1));
  list.push(line(paleRed, "#ffb8b8", 1));
  list.push(line(paleBlue, "#b8b8f5", 1));
  list.push(line(redLine, "#ff0000", 2.6));
  list.push(line(blueLine, "#0000ff", 2.6));
  // candles
  list.push({
    type: "bar", yAxisID: "yMain", grouped: false, barThickness: 1,
    data: bars.map((x, k) => ({ x, y: [lows[k], highs[k]] })),
    backgroundColor: candleKinds.map((c) => (c === "r" || c === "G" ? "#f23645" : "#089981")),
    borderWidth: 0,
  });
  list.push({
    type: "bar", yAxisID: "yMain", grouped: false, barThickness: 4, minBarLength: 1.5,
    data: bars.map((x, k) => ({ x, y: [bodyBottom[k], bodyTop[k]] })),
    backgroundColor: candleKinds.map((c) => (c === "r" ? "#f23645" : "#ffffff")),
    borderColor: candleKinds.map((c) => (c === "r" || c === "o" ? "#ff0000" : c === "k" ? "#000000" : "#00ff00")),
    borderWidth: 1, borderSkipped: false,
  });
  // horizontal levels
  list.push(line([[1.7, blueLevel], [317.1, blueLevel]], "#2962ff", 2));
  list.push(line([[1.7, lastPrice], [317.1, lastPrice]], "#00e000", 1, { borderDash: [1.5, 2] }));
  // price-pane signals
  list.push(dots(dotSeaGreen, "#3cb371", 5));
  list.push(dots(dotOrange, "#ff9a3c", 6.5));
  list.push(dots(dotCyan, "#00e5ff", 5));
  list.push(dots(dotYellow, "#ffee00", 5));
  list.push(dots(dotLime, "#00ee00", 7.5));
  list.push(dots(dotDarkGreen, "#0a6f0a", 5));
  list.push(dots(dotBlue, "#0000e0", 5));
  list.push(dots(dotBlack, "#000000", 5));
  list.push(dots(dotGrayBig, "#8a8a8a", 7));
  list.push(dots(dotGrayMid, "#8a8a8a", 4));
  list.push(dots(dotRed, "#ff0000", 6.5));
  list.push(dots(dotBrown, "#a33030", 4));
  list.push(dots(ringLime, "transparent", 5, "yMain", { pointBorderColor: "#00ee00", pointBorderWidth: 3 }));
  list.push(dots(ringOrange, "transparent", 5, "yMain", { pointBorderColor: "#ff9a3c", pointBorderWidth: 3 }));
  list.push(dots(crossRed, "#ff0000", 5, "yMain", { pointStyle: "cross", pointBorderColor: "#ff0000", pointBorderWidth: 3 }));
  list.push(dots(crossGreen, "#3cb371", 5, "yMain", { pointStyle: "cross", pointBorderColor: "#3cb371", pointBorderWidth: 3 }));
  list.push(dots(dotGraySmall, "#888888", 1.6));
  // DNA pane
  const big = 4.8;
  list.push(dots(dnaLime, "#00ee00", big, "yDna"));
  list.push(dots(dnaMagenta, "#ff00ff", big, "yDna"));
  list.push(dots(dnaCyan, "#00ffff", big, "yDna"));
  list.push(dots(dnaPink, "#ff88ee", big, "yDna"));
  list.push(dots(dnaDarkGreen, "#0a7a0a", big, "yDna"));
  list.push(dots(dnaRed, "#ff0000", big, "yDna"));
  list.push(dots(dnaAmber, "#ffb800", big, "yDna"));
  list.push(dots(dnaBlue, "#0000ee", big, "yDna"));
  list.push(dots(dnaGray, "#888888", 3.6, "yDna"));
  list.push(dots(dnaBlack, "#000000", big, "yDna"));
  list.push(dots(dnaSmallLime, "#00ee00", 2.5, "yDna"));
  list.push(dots(dnaSmallCyan, "#00ffff", 2.5, "yDna"));
  list.push(dots(dnaSmallRed, "#ff0000", 2.5, "yDna"));
  dnaLevels.forEach((lv, k) => {
    list.push({ type: "line", yAxisID: "yDna", data: [{ x: 1.7, y: lv }, { x: 317.1, y: lv }], borderColor: dnaLevelColors[k], borderWidth: 1, borderDash: [5, 5], pointRadius: 0 });
  });
  // status rows
  list.push(rowDots(bigPointRuns, bigPointLevel, 3.5, "yStatus", ["D", "M"]));
  [statusRuns, candleRuns, cloudRuns, trendRuns, setterRuns, waveRuns].forEach((r, k) => {
    list.push(rowDots(r, statusLevels[k], 4.2, "yStatus"));
  });
  // momentum rows
  [momentumARuns, momentumBRuns, momentumCRuns].forEach((r, k) => {
    list.push(rowDots(r, momentumLevels[k], 4.2, "yMomentum"));
  });
  list.push(smallDots(momentumARuns, momentumASmall, momentumLevels[0], "yMomentum"));
  list.push(smallDots(momentumBRuns, momentumBSmall, momentumLevels[1], "yMomentum"));
  list.push(smallDots(momentumCRuns, momentumCSmall, momentumLevels[2], "yMomentum"));
  // later entries are painted on top
  list.forEach((d, k) => { d.order = list.length - k; });
  return list;
}

function yAxis(base: any, positions: number[], labels: (string | number)[], weight: number, order: number, fmt?: (v: number) => string) {
  return {
    position: "right",
    stack: "panes",
    stackWeight: weight,
    weight: order,
    grid: { display: false, drawTicks: false },
    border: { display: false },
    afterFit: (s: any) => { s.width = 74; s.paddingTop = 0; s.paddingBottom = 0; },
    afterBuildTicks: (s: any) => { s.ticks = positions.map((v) => ({ value: v })); },
    ticks: {
      color: "#b2b5be",
      font: { family: FONT, size: 12 },
      padding: 12,
      crossAlign: "near",
      autoSkip: false,
      callback: (v: number) => {
        const i = positions.indexOf(v);
        return fmt ? fmt(v) : (i >= 0 ? labels[i] : "");
      },
    },
    ...base,
  };
}

export default function App() {
  const ref = useRef<HTMLCanvasElement>(null);
  useEffect(() => {
    document.body.style.margin = "0";
    document.body.style.background = "#1e1e1e";
    const chart = new Chart(ref.current as any, {
      type: "line",
      data: { datasets: buildDatasets() },
      plugins: [overlayPlugin],
      options: {
        responsive: false,
        animation: false,
        events: [],
        layout: { padding: 0, autoPadding: false },
        plugins: { legend: { display: false }, tooltip: { enabled: false }, title: { display: false } },
        scales: {
          x: {
            type: "linear", min: 1.714, max: 317.07, offset: false,
            grid: { display: false, drawTicks: false },
            border: { display: false },
            afterFit: (s: any) => { s.height = 21; s.paddingLeft = 0; s.paddingRight = 0; },
            afterBuildTicks: (s: any) => { s.ticks = xTickBars.map((v) => ({ value: v })); },
            ticks: {
              color: "#b2b5be", autoSkip: false, maxRotation: 0, padding: 3,
              font: (c: any) => ({ family: FONT, size: 12, weight: /^[A-Z]/.test(String(c.tick?.label)) ? "bold" : "normal" }),
              callback: (v: number) => xTickLabels[xTickBars.indexOf(v)] ?? "",
            },
          },
          yMain: yAxis({ type: "logarithmic", min: 22871, max: 25049 }, priceTicks, [], 578.7, 0, (v) => v.toLocaleString("en-US")),
          yDna: yAxis({ type: "linear", min: -4.96, max: 5.62 }, dnaTickPos, dnaTickLabels, 132.3, 1),
          yStatus: yAxis({ type: "linear", min: 5.54, max: 15.565 }, statusTickPos, statusTickLabels, 106, 2),
          yMomentum: yAxis({ type: "linear", min: -6.4, max: 0.667 }, [0], ["0"], 53, 3),
        },
      } as any,
    });
    return () => chart.destroy();
  }, []);

  return (
    <div style={{ position: "fixed", left: 0, top: 0, width: 1859, height: 954, background: "#1e1e1e", overflow: "hidden", fontFamily: FONT }}>
      <div style={{ position: "absolute", left: 10, top: 7, color: "#d8d8d8", fontSize: 12, lineHeight: "18px", whiteSpace: "nowrap" }}>
        Pippo98 published on TradingView.com, Jun 16, 2025 19:21 UTC+2
      </div>
      <div style={{ position: "absolute", left: 8, top: 26, width: 1841, height: 893, border: "1px solid #8a8a8a", boxSizing: "border-box", background: "#fff" }} />
      <canvas ref={ref} width={1840} height={891} style={{ position: "absolute", left: 9, top: 27, display: "block" }} />
      <svg width="20" height="14" viewBox="0 0 36 28" style={{ position: "absolute", left: 11, top: 930 }}>
        <path d="M14 22H7V11H0V4h14v18zM28 22h-8l7.5-18h8L28 22z" fill="#d1d4dc" />
        <circle cx="20" cy="8" r="4" fill="#d1d4dc" />
      </svg>
      <div style={{ position: "absolute", left: 32, top: 928, color: "#d1d4dc", fontSize: 14, fontWeight: 600, lineHeight: "18px" }}>TradingView</div>
    </div>
  );
}
